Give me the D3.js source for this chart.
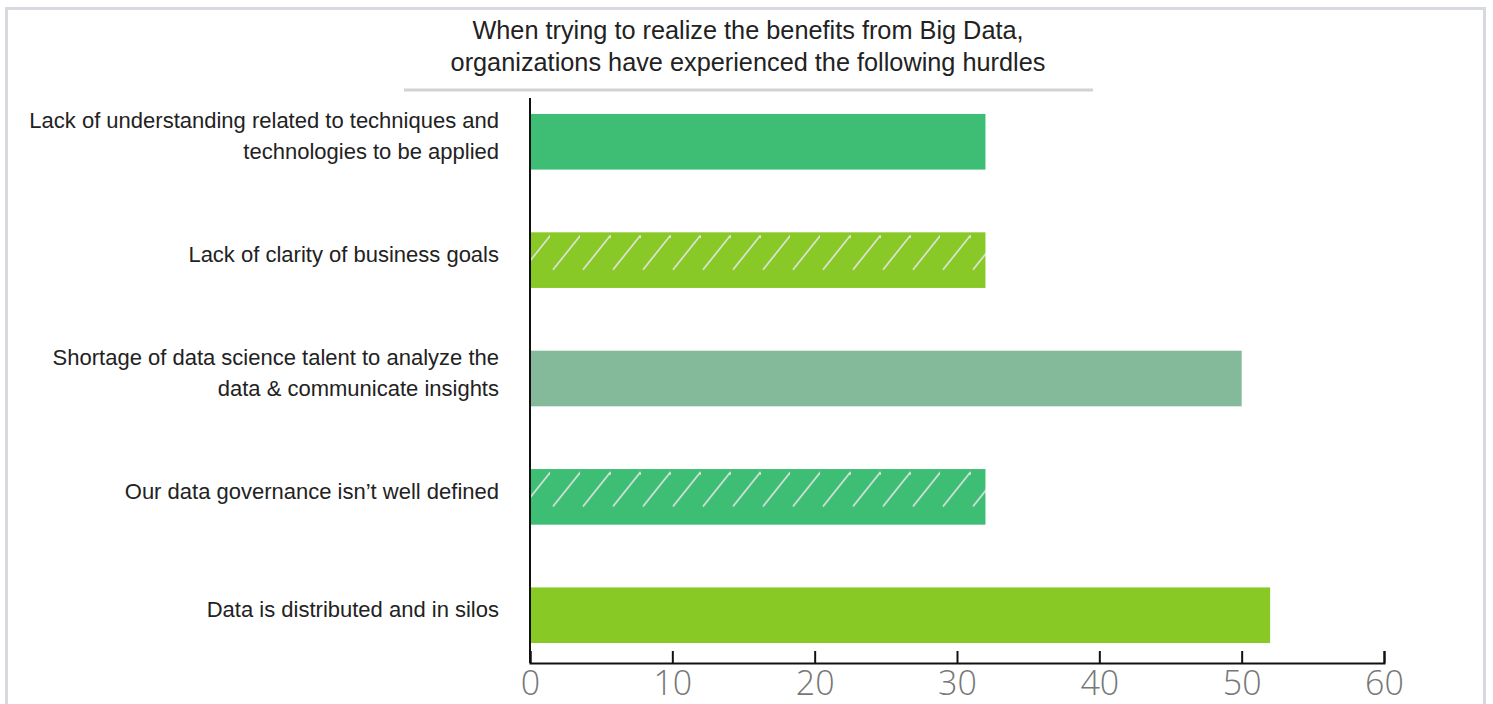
<!DOCTYPE html>
<html>
<head>
<meta charset="utf-8">
<script src="https://cdn.jsdelivr.net/npm/d3@7"></script>
<style>
  html, body { margin: 0; padding: 0; background: #fff; }
  svg { display: block; }
  .label, .title { font-family: "Liberation Sans", Arial, sans-serif; fill: #222; }
  .x-axis text { font-family: "Open Sans", sans-serif; font-weight: 300; fill: #777; }
</style>
</head>
<body>
<div id="chart"></div>
<script>
// chart data
const titleLines = [
  "When trying to realize the benefits from Big Data,",
  "organizations have experienced the following hurdles"
];
const categories = [
  ["Lack of understanding related to techniques and", "technologies to be applied"],
  ["Lack of clarity of business goals"],
  ["Shortage of data science talent to analyze the", "data & communicate insights"],
  ["Our data governance isn\u2019t well defined"],
  ["Data is distributed and in silos"]
];
const values = [32, 32, 50, 32, 52];
const xTicks = [0, 10, 20, 30, 40, 50, 60];

const colors = ["#3dbe74", "#88c928", "#84b999", "#3dbe74", "#88c926"];
const hatched = [false, true, false, true, false];

const width = 1493;
const height = 704;
const margin = { top: 98, right: 109, bottom: 41, left: 530 };
const innerWidth = width - margin.left - margin.right;
const innerHeight = height - margin.top - margin.bottom;

const svg = d3.select("#chart")
  .append("svg")
    .attr("width", width)
    .attr("height", height);

// light frame
svg.append("rect")
    .attr("x", 6.5)
    .attr("y", 8.5)
    .attr("width", 1478)
    .attr("height", 720)
    .attr("fill", "none")
    .attr("stroke", "#d6d9dd")
    .attr("stroke-width", 3);

// title
svg.append("text")
    .attr("class", "title")
    .attr("x", 748)
    .attr("y", 39)
    .attr("text-anchor", "middle")
    .attr("font-size", 25.3)
  .selectAll("tspan")
  .data(titleLines)
  .join("tspan")
    .attr("x", 748)
    .attr("dy", (d, i) => i === 0 ? 0 : 32)
    .text((d) => d);

svg.append("line")
    .attr("x1", 404)
    .attr("x2", 1093)
    .attr("y1", 90)
    .attr("y2", 90)
    .attr("stroke", "#d0d3d6")
    .attr("stroke-width", 3);

const xScale = d3.scaleLinear()
  .domain([0, 60])
  .range([0, innerWidth]);

const yScale = d3.scaleBand()
  .domain(d3.range(categories.length))
  .range([-16, innerHeight + 12])
  .paddingInner(0.53)
  .paddingOuter(0.27);

const inner = svg.append("g")
    .attr("transform", `translate(${margin.left}, ${margin.top})`);

// hatch patterns, one per bar so lines start at the bar's corner
const defs = svg.append("defs");
values.forEach((v, i) => {
  if (!hatched[i]) return;
  const h = yScale.bandwidth();
  const p = defs.append("pattern")
      .attr("id", `hatch${i}`)
      .attr("patternUnits", "userSpaceOnUse")
      .attr("x", margin.left)
      .attr("y", margin.top + yScale(i))
      .attr("width", 30)
      .attr("height", h);
  p.append("rect")
      .attr("width", 30)
      .attr("height", h)
      .attr("fill", colors[i]);
  p.append("line")
      .attr("x1", 3)
      .attr("y1", h - 5)
      .attr("x2", 3 + (h - 10) * 0.8)
      .attr("y2", 5)
      .attr("stroke", "#e4e4e4")
      .attr("stroke-width", 1.6);
});

inner.selectAll(".bar")
  .data(values)
  .join("rect")
    .attr("class", "bar")
    .attr("x", xScale(0))
    .attr("y", (d, i) => yScale(i))
    .attr("width", (d) => xScale(d) - xScale(0))
    .attr("height", yScale.bandwidth())
    .attr("fill", (d, i) => hatched[i] ? `url(#hatch${i})` : colors[i]);

// category labels
const labels = inner.selectAll(".label")
  .data(categories)
  .join("text")
    .attr("class", "label")
    .attr("text-anchor", "end")
    .attr("font-size", 22)
    .attr("transform", (d, i) => `translate(-31, ${yScale(i) + yScale.bandwidth() / 2 - 6})`);

labels.selectAll("tspan")
  .data((d) => d.map((t, j) => ({ t, j, n: d.length })))
  .join("tspan")
    .attr("x", 0)
    .attr("y", (d) => (d.j - (d.n - 1) / 2) * 31)
    .attr("dy", "0.35em")
    .text((d) => d.t);

// y axis line
inner.append("line")
    .attr("x1", 0)
    .attr("x2", 0)
    .attr("y1", 0)
    .attr("y2", innerHeight)
    .attr("stroke", "#111")
    .attr("stroke-width", 2);

// x axis
const xAxis = inner.append("g")
    .attr("class", "x-axis")
    .attr("transform", `translate(0, ${innerHeight})`)
    .call(d3.axisBottom(xScale)
      .tickValues(xTicks)
      .tickFormat(d3.format("d"))
      .tickSizeInner(-12)
      .tickSizeOuter(-12)
      .tickPadding(9));

xAxis.selectAll("path, line")
    .attr("stroke", "#111")
    .attr("stroke-width", 2);
xAxis.selectAll("text")
    .attr("font-size", 34)
    .attr("y", 8);
xAxis.attr("font-family", null).attr("font-size", null);
</script>
</body>
</html>
